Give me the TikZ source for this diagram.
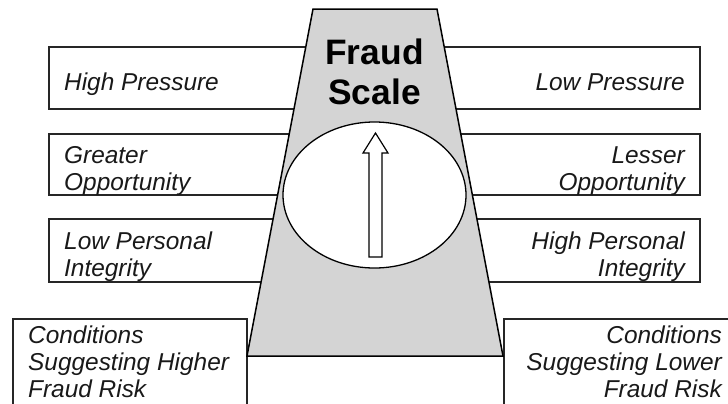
\documentclass[tikz,border=0pt]{standalone}
\usepackage{fontspec}
\setmainfont{Liberation Sans}[ItalicFont={Liberation Sans Italic}, BoldFont={Liberation Sans Bold}]
\usetikzlibrary{shapes.geometric}
\tikzset{ box_style/.style = { draw = black!85 % factor box
        , line width = 1.3bp
        }
        , scale_style/.style = { draw = black % the scale body
        , fill = black!17
        , line width = 1.5bp
        , line join = miter
        }
        , txt_style/.style = { inner sep = 0pt % factor text
        , text = black!90
        , font = \fontsize{24.5}{26.8}\selectfont\itshape
        }
        }

\begin{document}
\begin{tikzpicture}[x=1bp, y=-1bp,
        title_style/.style={inner sep=0pt,align=center,font=\fontsize{35.5}{40}\selectfont\bfseries},
        dial_style/.style={draw=black, fill=white, line width=1.3bp, ellipse, inner sep=0pt},
        arrow_style/.style={draw=black, fill=white, line width=1.2bp}]
        \useasboundingbox (0,0) rectangle (728,403);

        % boxes on the left and on the right
        \draw [box_style] (360,47) -| (49,109) -- (360,109);
        \draw [box_style] (360,134) -| (49,195) -- (360,195);
        \draw [box_style] (360,219) -| (49,282) -- (360,282);
        \draw [box_style] (13,420) |- (247,319) -- (247,420);
        \draw [box_style] (390,47) -| (700,109) -- (390,109);
        \draw [box_style] (390,134) -| (700,195) -- (390,195);
        \draw [box_style] (390,219) -| (700,282) -- (390,282);
        \draw [box_style] (740,319) -| (504,420);

        % the scale
        \coordinate (tl) at (313,9);
        \coordinate (tr) at (437,9);
        \coordinate (br) at (503,356);
        \coordinate (bl) at (247,356);
        \draw [scale_style] (tl) -- (tr) -- (br) -- (bl) -- cycle;
        \node [dial_style, minimum width=183bp, minimum height=146bp] (dial) at (374.5,195) {};
        \draw [arrow_style] (369,257) -- (369,153) -- (363,153) -- (375.5,133) -- (388,153) -- (382,153) -- (382,257) -- cycle;
        \node [title_style, anchor=base] (title) at (374.5,104) {Fraud\\Scale};

        % factors, anchored at the baseline of the last line
        \node [txt_style, anchor=base west] (hp) at (64,90) {High Pressure};
        \node [txt_style, anchor=base west, align=left] (go) at (64,190) {Greater\\Opportunity};
        \node [txt_style, anchor=base west, align=left] (lpi) at (64,276) {Low Personal\\Integrity};
        \node [txt_style, anchor=base west, align=left] (hi) at (28,397) {Conditions\\Suggesting Higher\\Fraud Risk};
        \node [txt_style, anchor=base east] (lp) at (685,90) {Low Pressure};
        \node [txt_style, anchor=base east, align=right] (lo) at (685,190) {Lesser\\Opportunity};
        \node [txt_style, anchor=base east, align=right] (hpi) at (685,276) {High Personal\\Integrity};
        \node [txt_style, anchor=base east, align=right] (lo2) at (722,397) {Conditions\\Suggesting Lower\\Fraud Risk};
\end{tikzpicture}
\end{document}
